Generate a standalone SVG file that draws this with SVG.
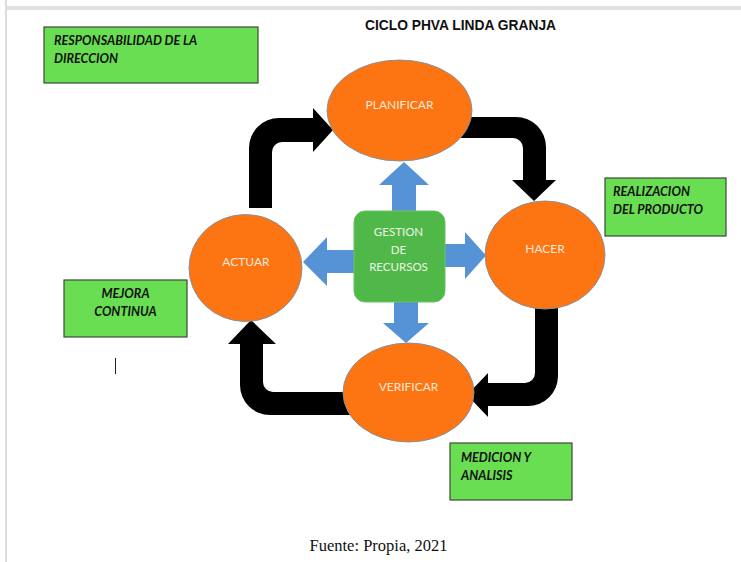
<svg xmlns="http://www.w3.org/2000/svg" width="741" height="562" viewBox="0 0 741 562">
<style>
.note rect{fill:#69de52;stroke:#3d4a38;stroke-width:1.2}
.note text{font-family:Lato,"Liberation Sans",sans-serif;font-weight:bold;font-style:italic;font-size:12.6px;fill:#111}
.phase ellipse{fill:#fd7512;stroke:#8a8f99;stroke-width:1}
.phase text{font-family:Lato,"Liberation Sans",sans-serif;font-size:12px;fill:#fbe8d8;text-anchor:middle}
.black{fill:#000}
.blue{fill:#5593d6}
</style>
<rect x="0" y="0" width="741" height="562" fill="#fff"/>
<rect x="7" y="6" width="734" height="4" fill="#e2e2e2"/>
<rect x="5" y="0" width="2" height="562" fill="#dcdcdc"/>

<text x="460.5" y="30" font-family="'Liberation Sans',Arial,sans-serif" font-weight="bold" font-size="13.8" text-anchor="middle" fill="#111">CICLO PHVA LINDA GRANJA</text>

<g id="connectors">
  <path class="black" d="M249,208 L249,148 A30,30 0 0 1 279,118 L313,118 L313,108 L333,130 L313,152 L313,142 L282,142 A10,10 0 0 0 272,152 L272,208 Z"/>
  <path class="black" d="M460,117 L516,117 A30,30 0 0 1 546,147 L546,180 L556,180 L534,201 L512,180 L523,180 L523,148 A10,10 0 0 0 513,138 L460,138 Z"/>
  <path class="black" d="M535,300 L558,300 L558,376 A30,30 0 0 1 528,406 L488,406 L488,417 L467,395 L488,373 L488,383 L525,383 A10,10 0 0 0 535,373 Z"/>
  <path class="black" d="M355,392 L273,392 A10,10 0 0 1 263,382 L263,344 L276,344 L251,320 L228,344 L240,344 L240,385 A30,30 0 0 0 270,415 L355,415 Z"/>
  <path class="blue" d="M392,215 L392,185 L379,185 L404,162 L429,185 L416,185 L416,215 Z"/>
  <path class="blue" d="M394,298 L394,323 L383,323 L406,343 L429,323 L418,323 L418,298 Z"/>
  <path class="blue" d="M358,250 L327,250 L327,237 L303,262 L327,286 L327,273 L358,273 Z"/>
  <path class="blue" d="M441,244 L465,244 L465,232 L486,255.5 L465,279 L465,267 L441,267 Z"/>
</g>

<g id="planificar" class="phase">
  <ellipse cx="399.5" cy="110.5" rx="72.5" ry="50.5"/>
  <text x="399.5" y="109" font-family="'Liberation Sans',Arial,sans-serif" font-size="13">PLANIFICAR</text>
</g>
<g id="hacer" class="phase">
  <ellipse cx="545" cy="255" rx="60" ry="54"/>
  <text x="545" y="253">HACER</text>
</g>
<g id="verificar" class="phase">
  <ellipse cx="408.5" cy="392.5" rx="65.5" ry="49.5"/>
  <text x="408.5" y="391">VERIFICAR</text>
</g>
<g id="actuar" class="phase">
  <ellipse cx="245.5" cy="268" rx="56.5" ry="53.5"/>
  <text x="246" y="266">ACTUAR</text>
</g>

<g id="gestion">
  <rect x="354" y="211" width="91" height="91" rx="11" fill="#4fb848" stroke="#6cc464" stroke-width="1"/>
  <g font-family="Lato,'Liberation Sans',sans-serif" font-size="11.5" fill="#eef7e6" text-anchor="middle">
    <text x="398.5" y="236">GESTION</text>
    <text x="398.5" y="254">DE</text>
    <text x="398.5" y="271">RECURSOS</text>
  </g>
</g>

<g id="responsabilidad" class="note">
  <rect x="44" y="27" width="214" height="56"/>
  <text x="54" y="45">RESPONSABILIDAD DE LA</text>
  <text x="54" y="63">DIRECCION</text>
</g>
<g id="realizacion" class="note">
  <rect x="605" y="178" width="121" height="58"/>
  <text x="613" y="196">REALIZACION</text>
  <text x="613" y="214">DEL PRODUCTO</text>
</g>
<g id="mejora" class="note">
  <rect x="64" y="280" width="123" height="57"/>
  <text x="125.5" y="298" text-anchor="middle">MEJORA</text>
  <text x="125.5" y="316" text-anchor="middle">CONTINUA</text>
</g>
<g id="medicion" class="note">
  <rect x="450" y="443" width="122" height="57"/>
  <text x="461" y="462">MEDICION Y</text>
  <text x="461" y="480">ANALISIS</text>
</g>

<line x1="115.5" y1="358" x2="115.5" y2="374" stroke="#222" stroke-width="1"/>

<text x="378.5" y="551" font-family="'Liberation Serif','Times New Roman',serif" font-size="16.5" text-anchor="middle" fill="#111">Fuente: Propia, 2021</text>
</svg>
